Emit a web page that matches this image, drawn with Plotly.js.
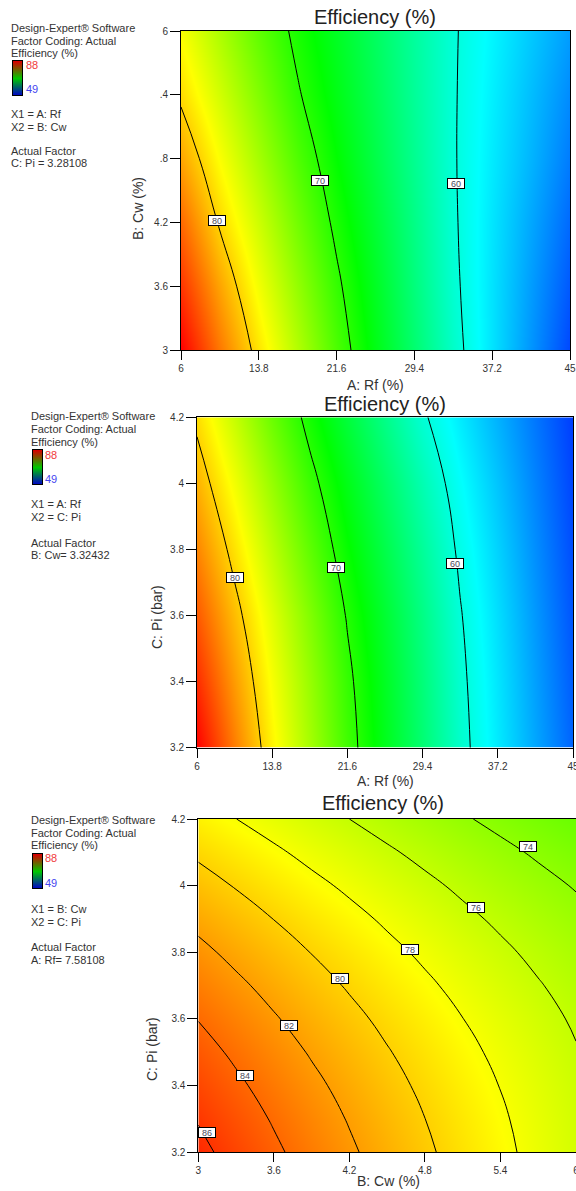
<!DOCTYPE html>
<html>
<head>
<meta charset="utf-8">
<script src="https://cdn.plot.ly/plotly-3.0.1.min.js"></script>
<style>
html,body{margin:0;padding:0;background:#fff;}
#chart{width:576px;height:1191px;}
</style>
</head>
<body>
<div id="chart"></div>
<script>
// ---------- DATA ----------
// Panel 1: Efficiency vs A: Rf (x) and B: Cw (y)
const rf = [6, 9.9, 13.8, 17.7, 21.6, 25.5, 29.4, 33.3, 37.2, 41.1, 45];
const cw1 = [3, 3.6, 4.2, 4.8, 5.4, 6];
const eff1 = [
  [88.0, 83.4, 79.2, 75.3, 71.35, 67.7, 64.3, 60.85, 57.7, 54.7, 51.7],
  [86.0, 81.7, 77.75, 74.1, 70.47, 67.1, 63.8, 60.5, 57.7, 55.0, 52.35],
  [84.0, 79.73, 76.3, 72.8, 69.45, 66.4, 63.4, 60.3, 57.8, 55.4, 53.0],
  [81.7, 78.1, 74.8, 71.5, 68.5, 65.7, 63.0, 60.2, 58.0, 55.9, 53.7],
  [79.6, 76.5, 73.4, 70.24, 67.7, 65.2, 62.7, 60.2, 58.2, 56.25, 54.3],
  [78.0, 75.05, 72.1, 69.36, 67.1, 64.8, 62.5, 60.23, 58.45, 56.7, 55.0]
];
// Panel 2: Efficiency vs A: Rf (x) and C: Pi (y)
const pi2 = [3.2, 3.4, 3.6, 3.8, 4.0, 4.2];
const eff2 = [
  [88.0, 83.17, 78.68, 74.82, 70.97, 67.48, 64.1, 60.74, 57.97, 55.39, 52.8],
  [86.3, 81.99, 77.99, 74.27, 70.55, 67.16, 63.83, 60.51, 57.77, 55.13, 52.5],
  [84.6, 80.75, 77.07, 73.42, 69.81, 66.59, 63.37, 60.15, 57.48, 54.84, 52.2],
  [82.9, 79.27, 75.69, 72.11, 68.74, 65.67, 62.6, 59.6, 57.03, 54.46, 51.9],
  [81.2, 77.74, 74.25, 70.75, 67.65, 64.65, 61.66, 58.91, 56.48, 54.04, 51.6],
  [79.5, 76.04, 72.57, 69.24, 66.27, 63.3, 60.33, 58.01, 55.78, 53.54, 51.3]
];
// Panel 3: Efficiency vs B: Cw (x) and C: Pi (y)
const cw3 = [3, 3.3, 3.6, 3.9, 4.2, 4.5, 4.8, 5.1, 5.4, 5.7, 6];
const pi3 = [3.2, 3.3, 3.4, 3.5, 3.6, 3.7, 3.8, 3.9, 4.0, 4.1, 4.2];
const eff3 = [
  [86.45, 85.37, 84.31, 83.27, 82.26, 81.26, 80.29, 79.33, 78.40, 77.49, 76.60],
  [85.90, 84.87, 83.85, 82.86, 81.89, 80.94, 80.01, 79.10, 78.21, 77.35, 76.50],
  [85.30, 84.31, 83.34, 82.39, 81.47, 80.55, 79.67, 78.80, 77.96, 77.14, 76.34],
  [84.65, 83.70, 82.77, 81.86, 80.98, 80.11, 79.27, 78.44, 77.64, 76.86, 76.10],
  [83.95, 83.04, 82.15, 81.28, 80.44, 79.61, 78.81, 78.02, 77.26, 76.52, 75.80],
  [83.21, 82.33, 81.48, 80.65, 79.84, 79.05, 78.29, 77.53, 76.81, 76.11, 75.42],
  [82.41, 81.57, 80.75, 79.96, 79.19, 78.43, 77.70, 76.98, 76.30, 75.63, 74.98],
  [81.56, 80.76, 79.98, 79.21, 78.48, 77.75, 77.06, 76.37, 75.72, 75.08, 74.47],
  [80.67, 79.90, 79.14, 78.41, 77.71, 77.01, 76.35, 75.70, 75.07, 74.47, 73.89],
  [79.72, 78.98, 78.26, 77.55, 76.88, 76.22, 75.58, 74.96, 74.37, 73.79, 73.24],
  [78.73, 78.01, 77.32, 76.64, 76.00, 75.36, 74.75, 74.16, 73.59, 73.05, 72.52]
];
// Contour levels shown
const levels12 = [60, 70, 80];
const levels3 = [74, 76, 78, 80, 82, 84, 86];
// Contour label anchors (data coords) for each level
const lab1 = [[80, 9.58, 4.222], [70, 19.9, 4.598], [60, 33.55, 4.567]];
const lab2 = [[80, 9.9, 3.714], [70, 20.41, 3.744], [60, 32.77, 3.759]];
const lab3 = [[86, 3.067, 3.258], [84, 3.37, 3.431], [82, 3.722, 3.581], [80, 4.124, 3.72],
              [78, 4.679, 3.807], [76, 5.207, 3.934], [74, 5.617, 4.119]];
// Tick labels
const rfTicks = [6, 13.8, 21.6, 29.4, 37.2, 45];
const rfTickText = ['6', '13.8', '21.6', '29.4', '37.2', '45'];
const cwTicks = [3, 3.6, 4.2, 4.8, 5.4, 6];
const cwTickText1 = ['3', '3.6', '4.2', '.8', '.4', '6'];
const cwTickText3 = ['3', '3.6', '4.2', '4.8', '5.4', '6'];
const piTicks = [3.2, 3.4, 3.6, 3.8, 4, 4.2];
const piTickText = ['3.2', '3.4', '3.6', '3.8', '4', '4.2'];
const legendRange = [49, 88];
// Side texts
const info1 = ['Design-Expert® Software', 'Factor Coding: Actual', 'Efficiency (%)', 'X1 = A: Rf', 'X2 = B: Cw', 'Actual Factor', 'C: Pi = 3.28108'];
const info2 = ['Design-Expert® Software', 'Factor Coding: Actual', 'Efficiency (%)', 'X1 = A: Rf', 'X2 = C: Pi', 'Actual Factor', 'B: Cw= 3.32432'];
const info3 = ['Design-Expert® Software', 'Factor Coding: Actual', 'Efficiency (%)', 'X1 = B: Cw', 'X2 = C: Pi', 'Actual Factor', 'A: Rf= 7.58108'];

// ---------- STYLE / LAYOUT ----------
const W = 576, H = 1191;
const PX = x => x / W;
const PY = y => 1 - y / H;
const FONT = 'Liberation Sans, Arial, sans-serif';
const scale = [[0, 'rgb(0,0,255)'], [0.25, 'rgb(0,255,255)'], [0.5, 'rgb(0,255,0)'], [0.75, 'rgb(255,255,0)'], [1, 'rgb(255,0,0)']];
const legScale = [[0, 'rgb(0,0,200)'], [0.5, 'rgb(0,200,0)'], [1, 'rgb(215,0,0)']];

function contourTrace(x, y, z, lv, xa, ya) {
  return {
    type: 'contour', x: x, y: y, z: z, xaxis: xa, yaxis: ya,
    colorscale: scale, zmin: legendRange[0], zmax: legendRange[1], showscale: false,
    autocontour: false,
    contours: {coloring: 'heatmap', start: lv[0], end: lv[lv.length - 1], size: lv[1] - lv[0], showlabels: false},
    line: {color: '#000', width: 1, smoothing: 1.3}, hoverinfo: 'skip'
  };
}
function legendTrace(xa, ya) {
  return {
    type: 'heatmap', x: [0, 1], y: [0, 1],
    z: [[legendRange[0], legendRange[0]], [legendRange[1], legendRange[1]]],
    zsmooth: 'best', colorscale: legScale, zmin: legendRange[0], zmax: legendRange[1],
    showscale: false, xaxis: xa, yaxis: ya, hoverinfo: 'skip'
  };
}

const data = [
  contourTrace(rf, cw1, eff1, levels12, 'x', 'y'),
  contourTrace(rf, pi2, eff2, levels12, 'x2', 'y2'),
  contourTrace(cw3, pi3, eff3, levels3, 'x3', 'y3'),
  legendTrace('x4', 'y4'),
  legendTrace('x5', 'y5'),
  legendTrace('x6', 'y6')
];

function xAxis(dom, range, tv, tt, anchor) {
  return {domain: dom, range: range, tickvals: tv, ticktext: tt, anchor: anchor,
    ticks: 'outside', ticklen: 9, tickwidth: 1, tickcolor: '#000', ticklabeloverflow: 'allow',
    showline: true, linecolor: '#000', linewidth: 1, mirror: true,
    showgrid: false, zeroline: false, tickfont: {family: FONT, size: 10, color: '#333'}, fixedrange: true};
}
function yAxis(dom, range, tv, tt, anchor) {
  return {domain: dom, range: range, tickvals: tv, ticktext: tt, anchor: anchor,
    ticks: 'outside', ticklen: 10, tickwidth: 1, tickcolor: '#000', ticklabeloverflow: 'allow',
    showline: true, linecolor: '#000', linewidth: 1, mirror: true,
    showgrid: false, zeroline: false, tickfont: {family: FONT, size: 10, color: '#333'}, fixedrange: true};
}
function legAxis(dom, anchor) {
  return {domain: dom, range: [0, 1], anchor: anchor, showticklabels: false, ticks: '',
    showline: true, linecolor: '#000', linewidth: 1, mirror: true, showgrid: false, zeroline: false, fixedrange: true};
}

const layout = {
  width: W, height: H, margin: {l: 0, r: 0, t: 0, b: 0},
  paper_bgcolor: '#fff', plot_bgcolor: '#fff', showlegend: false,
  font: {family: FONT},
  xaxis: xAxis([PX(181), PX(570)], [6, 45], rfTicks, rfTickText, 'y'),
  yaxis: yAxis([PY(350), PY(31)], [3, 6], cwTicks, cwTickText1, 'x'),
  xaxis2: xAxis([PX(197), PX(573)], [6, 45], rfTicks, rfTickText, 'y2'),
  yaxis2: yAxis([PY(747.7), PY(417.3)], [3.2, 4.2], piTicks, piTickText, 'x2'),
  xaxis3: xAxis([PX(198.3), 1], [3, 6], cwTicks, cwTickText3, 'y3'),
  yaxis3: yAxis([PY(1152.3), PY(819)], [3.2, 4.2], piTicks, piTickText, 'x3'),
  xaxis4: legAxis([PX(13), PX(22)], 'y4'), yaxis4: legAxis([PY(95), PY(61)], 'x4'),
  xaxis5: legAxis([PX(33), PX(42)], 'y5'), yaxis5: legAxis([PY(484), PY(450)], 'x5'),
  xaxis6: legAxis([PX(33), PX(42)], 'y6'), yaxis6: legAxis([PY(888), PY(854)], 'x6'),
  annotations: []
};

const ann = layout.annotations;
function txt(text, x, y, size, color, opts) {
  ann.push(Object.assign({text: text, xref: 'paper', yref: 'paper', x: PX(x), y: PY(y),
    xanchor: 'center', yanchor: 'middle', showarrow: false,
    font: {family: FONT, size: size, color: color}}, opts || {}));
}
// Titles
txt('Efficiency (%)', 375, 17, 20, '#222');
txt('Efficiency (%)', 385, 404, 20, '#222');
txt('Efficiency (%)', 383, 803, 20, '#222');
// Axis titles
txt('A: Rf (%)', 375, 385, 14, '#333');
txt('B: Cw (%)', 138, 209, 14, '#333', {textangle: -90});
txt('A: Rf (%)', 385, 781, 14, '#333');
txt('C: Pi (bar)', 157, 617, 14, '#333', {textangle: -90});
txt('B: Cw (%)', 388, 1181, 14, '#333');
txt('C: Pi (bar)', 152, 1049, 14, '#333', {textangle: -90});

// Side info blocks
function infoBlock(lines, x0, ys, legX, legYs) {
  lines.forEach((t, i) => txt(t, x0, ys[i], 11, '#333', {xanchor: 'left'}));
  txt(String(legendRange[1]), legX, legYs[0], 11, '#f03a3a', {xanchor: 'left'});
  txt(String(legendRange[0]), legX, legYs[1], 11, '#4646f0', {xanchor: 'left'});
}
infoBlock(info1, 9, [28.5, 41, 53, 114, 127, 151, 163], 24, [65.5, 89.5]);
infoBlock(info2, 29, [416, 429, 442, 504, 517.5, 542.5, 555], 43, [454.5, 479]);
infoBlock(info3, 29, [819.5, 833, 845, 908.5, 921.5, 946.5, 960], 43, [858, 882.5]);

// Contour labels
function labels(arr, xr, yr) {
  arr.forEach(l => ann.push({text: String(l[0]), xref: xr, yref: yr, x: l[1], y: l[2],
    xanchor: 'center', yanchor: 'middle', showarrow: false, bgcolor: '#fff',
    bordercolor: '#000', borderwidth: 1, borderpad: 0, width: 16, height: 9,
    font: {family: FONT, size: 9, color: '#4a4a5a'}}));
}
labels(lab1, 'x', 'y');
labels(lab2, 'x2', 'y2');
labels(lab3, 'x3', 'y3');

Plotly.newPlot('chart', data, layout, {staticPlot: true, displayModeBar: false});
</script>
</body>
</html>
